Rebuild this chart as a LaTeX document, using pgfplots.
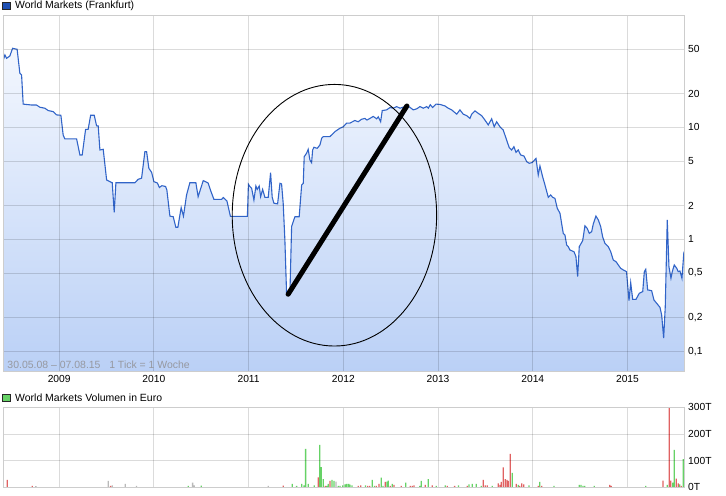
\documentclass[border=0pt]{standalone}
\usepackage{pgfplots}
\pgfplotsset{compat=1.18}
\usepackage{pgfplotstable}
\usepackage{fontspec}
\setmainfont{Liberation Sans}
\definecolor{lineblue}{RGB}{49,100,200}
\definecolor{filltop}{RGB}{243,247,254}
\definecolor{fillbot}{RGB}{186,208,246}
\definecolor{vgreen}{RGB}{102,210,102}
\definecolor{vred}{RGB}{224,98,98}
\definecolor{vgray}{RGB}{185,185,185}
\definecolor{framegray}{RGB}{205,205,205}
\definecolor{legblue}{RGB}{30,80,180}
\definecolor{notegray}{RGB}{150,152,160}

\pgfplotstableread{
x y
2008.41 39.9
2008.427 44.2
2008.445 41.3
2008.479 43.3
2008.508 50.7
2008.556 49.7
2008.585 30.3
2008.603 29.3
2008.620 16.1
2008.709 15.8
2008.761 15.8
2008.796 15.1
2008.849 14.8
2008.884 14.1
2008.937 13.8
2008.973 12.9
2009.018 12.8
2009.042 8.53
2009.060 7.87
2009.184 7.87
2009.219 5.66
2009.243 5.66
2009.279 9.59
2009.306 9.59
2009.332 12.8
2009.370 12.8
2009.395 10.3
2009.412 10.3
2009.430 6.27
2009.465 6.36
2009.501 3.38
2009.535 3.27
2009.560 3.20
2009.581 1.74
2009.599 3.20
2009.799 3.20
2009.834 3.43
2009.870 3.51
2009.905 6.06
2009.923 6.06
2009.947 4.30
2009.976 3.96
2010.000 3.27
2010.037 3.18
2010.058 2.90
2010.084 3.01
2010.124 2.96
2010.137 2.75
2010.169 1.61
2010.204 1.59
2010.232 1.28
2010.253 1.28
2010.288 1.92
2010.312 1.61
2010.345 2.49
2010.380 3.20
2010.443 3.20
2010.467 2.40
2010.489 2.75
2010.521 3.34
2010.573 3.18
2010.597 2.75
2010.634 2.27
2010.715 2.27
2010.732 2.36
2010.771 2.20
2010.808 1.60
2010.987 1.60
2010.998 3.10
2011.014 2.95
2011.032 2.85
2011.056 2.24
2011.077 2.99
2011.091 2.79
2011.112 2.99
2011.127 2.40
2011.148 2.79
2011.172 2.37
2011.207 2.37
2011.232 3.93
2011.249 2.37
2011.267 2.10
2011.306 2.07
2011.331 3.16
2011.348 3.12
2011.365 2.10
2011.383 0.986
2011.401 0.325
2011.436 0.325
2011.454 1.30
2011.489 1.59
2011.534 1.59
2011.560 3.05
2011.577 3.16
2011.587 5.47
2011.612 5.86
2011.629 6.36
2011.647 5.11
2011.665 4.83
2011.676 6.27
2011.690 6.63
2011.724 6.49
2011.753 6.95
2011.771 7.98
2011.788 8.25
2011.858 8.25
2011.911 9.14
2011.964 9.80
2011.999 10.1
2012.035 10.9
2012.070 10.9
2012.122 11.5
2012.157 11.2
2012.193 11.8
2012.228 12.0
2012.249 11.6
2012.281 12.0
2012.316 12.5
2012.352 11.9
2012.369 12.4
2012.394 11.2
2012.411 14.1
2012.457 14.3
2012.492 15.0
2012.527 14.8
2012.563 15.3
2012.598 14.8
2012.651 15.3
2012.693 15.3
2012.738 14.3
2012.774 14.6
2012.809 15.3
2012.844 14.8
2012.880 15.3
2012.897 14.8
2012.918 15.9
2012.943 15.0
2012.978 16.1
2013.020 16.0
2013.073 15.5
2013.108 14.8
2013.144 14.3
2013.197 13.1
2013.231 14.3
2013.266 13.1
2013.302 12.7
2013.337 12.0
2013.355 13.1
2013.390 14.0
2013.425 13.3
2013.460 12.7
2013.495 11.6
2013.530 10.5
2013.566 11.9
2013.593 10.1
2013.619 11.2
2013.654 10.1
2013.688 9.46
2013.724 7.70
2013.752 6.57
2013.777 6.27
2013.801 6.71
2013.823 5.98
2013.847 6.27
2013.872 5.66
2013.907 5.54
2013.936 4.93
2013.963 4.77
2013.995 4.85
2014.034 5.27
2014.058 3.75
2014.076 4.51
2014.104 3.62
2014.129 3.05
2014.164 2.37
2014.189 2.49
2014.210 2.37
2014.234 2.32
2014.259 1.89
2014.287 1.71
2014.322 1.13
2014.340 1.09
2014.358 0.889
2014.375 0.859
2014.393 0.802
2014.435 0.775
2014.456 0.700
2014.474 0.464
2014.491 0.859
2014.527 0.972
2014.551 1.32
2014.575 1.25
2014.597 1.13
2014.622 1.17
2014.639 1.37
2014.667 1.61
2014.692 1.49
2014.717 1.30
2014.738 1.05
2014.762 0.921
2014.797 0.859
2014.823 0.775
2014.850 0.653
2014.879 0.631
2014.903 0.590
2014.928 0.551
2014.956 0.532
2014.990 0.514
2015.016 0.283
2015.034 0.410
2015.055 0.291
2015.090 0.291
2015.125 0.330
2015.161 0.341
2015.178 0.514
2015.193 0.540
2015.213 0.353
2015.255 0.348
2015.280 0.287
2015.315 0.264
2015.343 0.247
2015.361 0.211
2015.382 0.131
2015.399 0.250
2015.420 1.49
2015.438 0.569
2015.459 0.449
2015.473 0.514
2015.494 0.590
2015.520 0.551
2015.536 0.514
2015.554 0.521
2015.575 0.449
2015.596 0.775
}\price

\pgfplotstableread{
x y
2010.362 5
2010.499 6
2011.460 12.5
2011.507 5
2011.560 12.5
2011.584 7.5
2011.602 144
2011.629 12.5
2011.693 7.5
2011.750 159
2011.767 76
2011.788 31
2011.824 5
2011.841 12.5
2011.880 27.5
2011.901 24
2011.946 5
2011.964 5
2011.993 7.5
2012.017 11
2012.035 12.5
2012.056 12.5
2012.070 10
2012.091 7.5
2012.235 7.5
2012.305 27.5
2012.330 5
2012.400 36
2012.418 5
2012.460 21
2012.474 25
2012.516 12.5
2012.658 17.5
2012.806 5
2012.823 24
2012.897 31
2012.981 5
2013.076 7.5
2013.217 7.5
2013.326 11
2013.361 12.5
2013.403 12.5
2013.456 5
2013.572 5
2013.783 54
2013.847 9
2013.960 7.5
2014.073 20
2014.224 5
2014.491 9
2014.509 9
2014.530 5
2014.548 5
2014.649 5
2015.192 5
2015.420 9
2015.477 17.5
2015.494 140
2015.551 11
2015.589 106
}\volgreen

\pgfplotstableread{
x y
2008.451 27.5
2008.715 5
2009.543 5
2011.365 6
2011.735 37.5
2011.809 5
2011.859 24
2012.157 5
2012.183 7.5
2012.257 5
2012.278 5
2012.347 5
2012.376 12.5
2012.442 20
2012.495 5
2012.534 9
2012.611 5
2012.706 5
2012.728 5
2012.746 7.5
2012.865 9
2012.939 7.5
2013.097 5
2013.175 5
2013.308 5
2013.477 27.5
2013.498 7.5
2013.520 7.5
2013.636 15
2013.654 9
2013.667 20
2013.689 75
2013.710 31
2013.728 27.5
2013.741 24
2013.762 125
2013.826 12.5
2013.862 5
2013.883 15
2013.904 11
2014.058 5
2014.094 5
2014.812 9
2014.829 5
2015.375 25
2015.441 300
2015.456 25
2015.515 32.5
2015.536 15
2015.568 5
}\volred

\pgfplotstableread{
x y
2008.754 4
2009.517 24
2009.560 7.5
2009.697 12.5
2009.817 5
2010.409 17.5
2010.426 7.5
2011.207 5
2011.922 21
}\volgray

\pgfplotsset{
  chart/.style={
    scale only axis, width=681bp,
    xmin=2008.41, xmax=2015.6,
    axis line style={framegray, line width=0.8bp},
    major tick length=0pt,
    grid=major,
    major grid style={draw=black, draw opacity=0.14, line width=0.9bp},
    axis on top,
    xtick={2009,2010,2011,2012,2013,2014,2015},
    yticklabel pos=right,
    yticklabel style={anchor=west, inner sep=0pt, xshift=3.7bp, font=\fontsize{10.3}{12}\selectfont},
    xticklabel style={anchor=center, inner sep=0pt, yshift=-7.5bp, font=\fontsize{10.3}{12}\selectfont},
  }
}

\begin{document}
\begin{tikzpicture}
\useasboundingbox (0,0) rectangle (726bp,496bp);

\begin{axis}[chart,
  at={(3.3bp,124.5bp)}, anchor=south west, height=356.5bp,
  ymode=log, ymin=0.066, ymax=100.6,
  ytick={0.1,0.2,0.5,1,2,5,10,20,50},
  yticklabels={{0,1},{0,2},{0,5},1,2,5,10,20,50},
  xticklabels={2009,2010,2011,2012,2013,2014,2015},
]
\addplot[draw=none, top color=filltop, bottom color=fillbot] table {\price}
  -- (axis cs:2015.596,0.066) -- (axis cs:2008.41,0.066) -- cycle;
\addplot[lineblue, line width=1.1bp] table {\price};
\draw[black, line width=0.9bp] (axis cs:2011.906,1.64) ellipse [x radius=102.2bp, y radius=130.8bp];
\draw[black, line width=5bp, line cap=round] (axis cs:2011.417,0.323) -- (axis cs:2012.671,15.5);
\end{axis}

\node[anchor=west, inner sep=0pt, text=notegray, font=\fontsize{10.5}{12}\selectfont] at (7.3bp,131bp) {30.05.08 -- 07.08.15\ \ \ 1 Tick = 1 Woche};

\begin{axis}[chart,
  at={(3.3bp,8.7bp)}, anchor=south west, height=80bp,
  ymin=0, ymax=300,
  ytick={0,100,200,300},
  yticklabels={0T,100T,200T,300T},
  xticklabels={},
]
\addplot[ybar, bar width=1.3bp, bar shift=0pt, fill=vgray, draw=none] table {\volgray};
\addplot[ybar, bar width=1.3bp, bar shift=0pt, fill=vgreen, draw=none] table {\volgreen};
\addplot[ybar, bar width=1.3bp, bar shift=0pt, fill=vred, draw=none] table {\volred};
\end{axis}

\draw[black!85, line width=0.7bp, fill=legblue] (2.7bp,486.3bp) rectangle (10bp,493.6bp);
\node[anchor=west, inner sep=0pt, font=\fontsize{10.5}{12}\selectfont] at (15bp,490bp) {World Markets (Frankfurt)};
\draw[black!85, line width=0.7bp, fill=vgreen] (2.7bp,94.3bp) rectangle (10bp,101.6bp);
\node[anchor=west, inner sep=0pt, font=\fontsize{10.5}{12}\selectfont] at (15bp,98bp) {World Markets Volumen in Euro};
\end{tikzpicture}
\end{document}
